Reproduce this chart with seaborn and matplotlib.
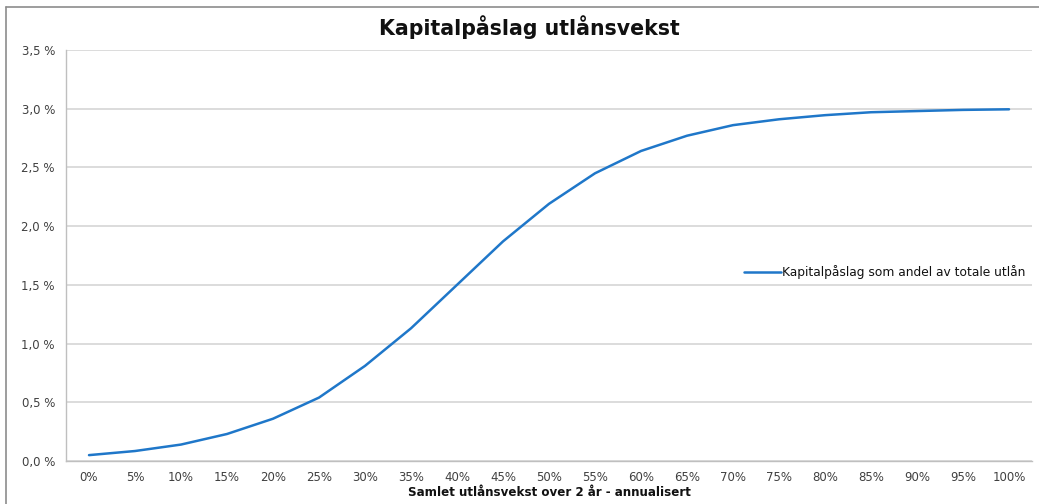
import matplotlib
matplotlib.use("Agg")
import matplotlib.pyplot as plt
import seaborn as sns
import pandas as pd
import numpy as np
from matplotlib.lines import Line2D

categories = ["0%", "5%", "10%", "15%", "20%", "25%", "30%", "35%", "40%", "45%", "50%",
              "55%", "60%", "65%", "70%", "75%", "80%", "85%", "90%", "95%", "100%"]
values = [0.05, 0.085, 0.14, 0.23, 0.36, 0.54, 0.81, 1.13, 1.50, 1.87, 2.19,
          2.45, 2.64, 2.77, 2.86, 2.91, 2.945, 2.97, 2.98, 2.99, 2.995]
yticks = [0.0, 0.5, 1.0, 1.5, 2.0, 2.5, 3.0, 3.5]
ytick_labels = ["0,0 %", "0,5 %", "1,0 %", "1,5 %", "2,0 %", "2,5 %", "3,0 %", "3,5 %"]
series_name = "Kapitalpåslag som andel av totale utlån"
title = "Kapitalpåslag utlånsvekst"
xlabel = "Samlet utlånsvekst over 2 år - annualisert"

sns.set_style("white")
plt.rcParams['font.family'] = ['DejaVu Sans']

df = pd.DataFrame({"idx": np.arange(len(categories)), "val": values})

fig = plt.figure(figsize=(10.39, 5.04), dpi=100)
ax = fig.add_axes([66/1039, 1-461/504, (1032-66)/1039, (461-50)/504])

sns.lineplot(data=df, x="idx", y="val", ax=ax, color="#1F77C9", linewidth=1.8,
             label=series_name)

ax.set_xlim(-0.5, len(categories) - 0.5)
ax.set_ylim(0, 3.5)
ax.set_yticks(yticks)
ax.set_yticklabels(ytick_labels, fontsize=8.5, color="#404040")
ax.set_xticks(np.arange(len(categories)))
ax.set_xticklabels(categories, fontsize=8.5, color="#404040")
ax.set_xticks(np.arange(-0.5, len(categories)), minor=True)
ax.tick_params(axis="x", which="major", length=0, pad=7)
ax.tick_params(axis="x", which="minor", length=4, color="#bfbfbf", direction="out")
ax.tick_params(axis="y", which="major", length=4, color="#bfbfbf", direction="out", pad=4)
ax.yaxis.grid(True, color="#d9d9d9", linewidth=1.3)
ax.set_axisbelow(True)

for s in ["top", "right"]:
    ax.spines[s].set_visible(False)
for s in ["left", "bottom"]:
    ax.spines[s].set_color("#bfbfbf")
    ax.spines[s].set_linewidth(1.0)

ax.set_xlabel(xlabel, fontsize=8.6, fontweight="bold", labelpad=2, color="#111111")
ax.set_ylabel("")
fig.text(529/1039, 1-27/504, title, ha="center", va="center", fontsize=14.8,
         fontweight="bold", color="#111111")

leg = ax.legend(loc="center left", bbox_to_anchor=(0.697, 0.46), frameon=False,
                fontsize=8.8, handlelength=3.0, handletextpad=0.1, borderaxespad=0)
for t in leg.get_texts():
    t.set_color("#111111")

# outer frame (left and top)
fig.add_artist(Line2D([6/1039, 6/1039], [0, 1-7/504], color="#8c8c8c", linewidth=1.2,
                      transform=fig.transFigure))
fig.add_artist(Line2D([6/1039, 1], [1-7/504, 1-7/504], color="#8c8c8c", linewidth=1.2,
                      transform=fig.transFigure))

fig.savefig("out.png", dpi=100)
